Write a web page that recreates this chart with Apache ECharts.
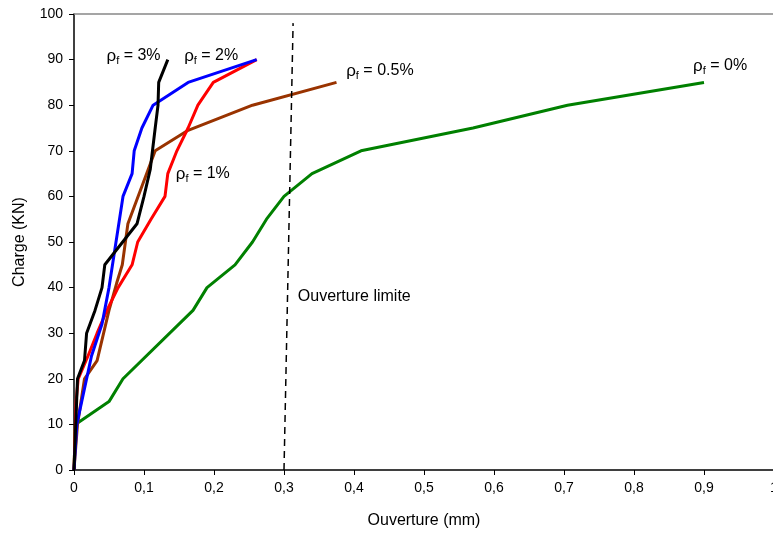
<!DOCTYPE html>
<html>
<head>
<meta charset="utf-8">
<script src="https://cdn.jsdelivr.net/npm/echarts@6/dist/echarts.min.js"></script>
<style>
html,body{margin:0;padding:0;background:#fff;}
#chart{width:773px;height:536px;}
</style>
</head>
<body>
<div id="chart"></div>
<script>
// Ouverture (mm) / Charge (KN) pour chaque taux de fibres
var xTicks=[0,0.1,0.2,0.3,0.4,0.5,0.6,0.7,0.8,0.9,1];
var yTicks=[0,10,20,30,40,50,60,70,80,90,100];

var rho0=[[0,0],[0.002,10],[0.05,15],[0.07,20],[0.17,35],[0.19,40],[0.23,45],[0.255,50],[0.275,55],[0.3,60],[0.34,65],[0.41,70],[0.57,75],[0.705,80],[0.9,85]];
var rho05=[[0,0],[0.005,10],[0.015,20],[0.033,24],[0.05,35],[0.061,41],[0.069,45],[0.077,54],[0.116,70],[0.163,74.5],[0.255,80],[0.375,85]];
var rho1=[[0,0],[0.003,15],[0.006,20],[0.02,25],[0.033,30],[0.047,35],[0.063,40],[0.083,45],[0.091,50],[0.11,55],[0.13,60],[0.134,65],[0.147,70],[0.163,75],[0.177,80],[0.199,85],[0.261,90]];
var rho2=[[0,0],[0.004,10],[0.011,15],[0.025,25],[0.04,32],[0.05,40],[0.06,50],[0.065,55],[0.07,60],[0.083,65],[0.086,70],[0.097,75],[0.113,80],[0.163,85],[0.261,90]];
var rho3=[[0,0],[0.005,20],[0.015,24],[0.018,30],[0.03,35],[0.04,40],[0.044,45],[0.09,54],[0.1,60],[0.109,66],[0.116,75],[0.12,80],[0.121,85],[0.134,90]];
// ligne "Ouverture limite"
var limite=[[0.3,0],[0.313,98]];

var font='"Liberation Sans", Arial, sans-serif';
var rich={
    r:{fontSize:17,color:'#000',fontFamily:font},
    s:{fontSize:11,color:'#000',fontFamily:font,padding:[10,0,0,0]},
    t:{fontSize:16,color:'#000',fontFamily:font}
};
function rhoLabel(txt,x,y){
    return {
        coord:[x,y],
        symbol:'circle',
        symbolSize:1,
        itemStyle:{color:'rgba(0,0,0,0)'},
        label:{show:true,position:'inside',formatter:'{r|ρ}{s|f}{t| = '+txt+'}',rich:rich}
    };
}
function serie(name,data,color,lab){
    return {
        name:name,
        type:'line',
        data:data,
        showSymbol:false,
        symbol:'none',
        lineStyle:{color:color,width:3},
        itemStyle:{color:color},
        animation:false,
        markPoint:{data:[lab],animation:false}
    };
}

var mychart=echarts.init(document.getElementById('chart'));
var option={
    backgroundColor:'#fff',
    grid:{left:74,right:-1,top:14,bottom:66,outerBoundsMode:'none',containLabel:false},
    xAxis:[{
        type:'value',
        min:0,max:1,interval:0.1,
        name:'Ouverture (mm)',
        nameLocation:'middle',
        nameGap:43,
        nameTextStyle:{color:'#000',fontSize:16,fontFamily:font},
        axisLine:{show:true,onZero:false,lineStyle:{color:'#000',width:1.5}},
        axisTick:{show:true,length:5,lineStyle:{color:'#000'}},
        axisLabel:{color:'#000',fontSize:14,fontFamily:font,margin:11,
            formatter:function(v){return String(Math.round(v*10)/10).replace('.',',');}},
        splitLine:{show:false}
    },{
        type:'value',position:'top',min:0,max:1,
        axisLine:{show:true,onZero:false,lineStyle:{color:'#888',width:1.5}},
        axisTick:{show:false},axisLabel:{show:false},splitLine:{show:false}
    }],
    yAxis:{
        type:'value',
        min:0,max:100,interval:10,
        name:'Charge (KN)',
        nameLocation:'middle',
        nameGap:46,
        nameTextStyle:{color:'#000',fontSize:16,fontFamily:font},
        axisLine:{show:true,onZero:false,lineStyle:{color:'#000',width:1.5}},
        axisTick:{show:true,length:5,lineStyle:{color:'#000'}},
        axisLabel:{color:'#000',fontSize:14,fontFamily:font,margin:11},
        splitLine:{show:false}
    },
    series:[
        serie('0%',rho0,'#008000',rhoLabel('0%',0.923,88.6)),
        serie('0.5%',rho05,'#993300',rhoLabel('0.5%',0.437,87.5)),
        serie('1%',rho1,'#ff0000',rhoLabel('1%',0.184,64.9)),
        serie('2%',rho2,'#0000ff',rhoLabel('2%',0.196,90.8)),
        serie('3%',rho3,'#000000',rhoLabel('3%',0.085,90.8)),
        {
            name:'limite',
            type:'line',
            data:limite,
            symbol:'none',
            animation:false,
            lineStyle:{color:'#000',width:1.5,type:[7,5]},
            markPoint:{animation:false,data:[{
                coord:[0.319,38],
                symbol:'circle',
                symbolSize:1,
                itemStyle:{color:'rgba(0,0,0,0)'},
                label:{show:true,position:'right',distance:0,color:'#000',fontSize:16,fontFamily:font,formatter:'Ouverture limite'}
            }]}
        }
    ]
};
mychart.setOption(option);
</script>
</body>
</html>
